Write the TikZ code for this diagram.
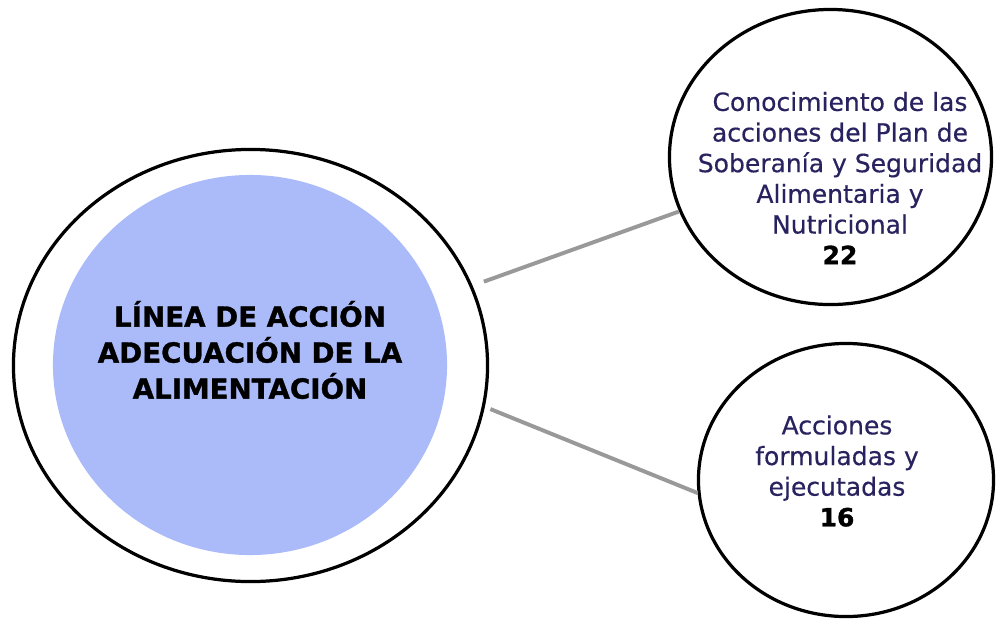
\documentclass[tikz,border=0pt]{standalone}
\usepackage{fontspec}
\setmainfont{DejaVu Sans}
\newfontfamily\gruesa[FakeBold=1.2]{DejaVu Sans Bold}
\newfontfamily\media[FakeBold=0.4]{DejaVu Sans}
\usetikzlibrary{shapes.geometric}
\definecolor{azul}{RGB}{171,187,250}
\definecolor{tinta}{RGB}{40,35,95}

\begin{document}
\begin{tikzpicture}[x=0.025cm, y=-0.025cm, c/.style={ellipse, draw, line width=2.3pt, inner sep=0pt}, l/.style={draw=gray!80, line width=2.8pt}, t/.style={align=center, text=tinta, font=\media\fontsize{17.8}{21.8}\selectfont}]
		\useasboundingbox (0,0) rectangle (996,621);
		\node[c, minimum width=11.85cm, minimum height=10.8cm] (L) at (250.5,365.5) {};
		\node[ellipse, fill=azul, minimum width=9.85cm, minimum height=9.5cm] (Lin) at (250,365) {};
		\node[align=center, font=\gruesa\fontsize{19.7}{25.6}\selectfont] (L_label) at (250,350) {LÍNEA DE ACCIÓN\\ADECUACIÓN DE LA\\ALIMENTACIÓN};
		\node[c, minimum width=8.05cm, minimum height=7.375cm] (K) at (830.5,157) {};
		\node[t] (K_label) at (840,178) {Conocimiento de las\\acciones del Plan de\\Soberanía y Seguridad\\Alimentaria y\\Nutricional\\\textcolor{black}{\gruesa 22}};
		\node[c, minimum width=7.375cm, minimum height=6.825cm] (F) at (846,480) {};
		\node[t] (F_label) at (837,471) {Acciones\\formuladas y\\ejecutadas\\\textcolor{black}{\gruesa 16}};

		\draw[l, shorten <=0.3cm] (L) -- (K);
		\draw[l, shorten <=0.15cm] (L.-10.5) -- (F.185.6);
	\end{tikzpicture}
\end{document}
